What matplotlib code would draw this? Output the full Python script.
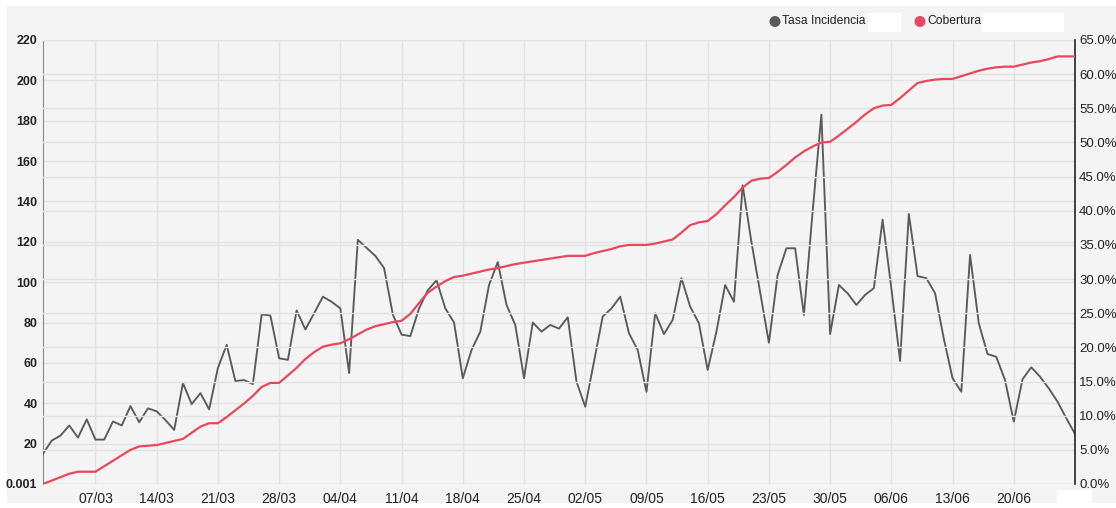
import matplotlib
matplotlib.use("Agg")
import matplotlib.pyplot as plt
import matplotlib.dates as mdates
from matplotlib.patches import Rectangle, Ellipse
import pandas as pd

plt.rcParams['font.family'] = ['Liberation Sans Narrow', 'Liberation Sans', 'DejaVu Sans']

# ---------------- data ----------------
start_date = "2021-03-01"
tasa_incidencia = [
    15, 21.5, 24, 29, 23, 32, 22,
    22, 31, 29, 38.6, 30.6, 37.5, 36,
    31.7, 26.8, 50, 39.6, 45, 37, 57.5,
    69, 51, 51.5, 49.5, 84, 83.5, 62.3,
    61.5, 86, 76.6, 84.6, 92.8, 90.3, 87,
    55, 121, 117, 113, 107, 84, 74,
    73.3, 87, 96, 101, 87, 80, 52.4,
    66.4, 75.5, 98.6, 110, 88.7, 78.8, 52.4,
    80, 75.5, 78.8, 77, 82.6, 50.7, 38.3,
    60.6, 83, 87, 92.8, 74.7, 66.4, 45.7,
    84.6, 74.3, 81.3, 102, 87.9, 79.6, 56.5,
    75.5, 98.6, 90.3, 148, 120, 95, 70,
    103.6, 116.8, 116.8, 83.7, 135, 183, 74.3,
    98.6, 94.5, 88.7, 93.7, 97, 131, 97,
    61, 133.8, 103, 102, 94.5, 72, 52.4,
    45.7, 113.5, 79.6, 64.4, 63, 51.5, 30.9,
    51.9, 57.8, 53.2, 47.4, 40.8, 32.6, 24.8,
]
cobertura = [
    0.0, 0.5, 1.0, 1.5, 1.8, 1.8, 1.8,
    2.6, 3.4, 4.2, 5.0, 5.5, 5.6, 5.7,
    6.0, 6.3, 6.6, 7.5, 8.4, 8.9, 8.9,
    9.8, 10.8, 11.8, 12.9, 14.2, 14.8, 14.8,
    15.9, 17.0, 18.3, 19.3, 20.1, 20.4, 20.6,
    21.2, 21.9, 22.6, 23.1, 23.4, 23.7, 23.9,
    24.9, 26.5, 28.0, 28.9, 29.7, 30.3, 30.5,
    30.8, 31.1, 31.4, 31.6, 31.9, 32.2, 32.4,
    32.6, 32.8, 33.0, 33.2, 33.4, 33.4, 33.4,
    33.8, 34.1, 34.4, 34.8, 35.0, 35.0, 35.0,
    35.2, 35.5, 35.8, 36.8, 37.9, 38.3, 38.5,
    39.5, 40.8, 42.0, 43.4, 44.4, 44.7, 44.8,
    45.7, 46.7, 47.8, 48.7, 49.4, 50.0, 50.1,
    51.0, 52.0, 53.0, 54.1, 55.0, 55.4, 55.5,
    56.5, 57.6, 58.7, 59.0, 59.2, 59.3, 59.3,
    59.7, 60.1, 60.5, 60.8, 61.0, 61.1, 61.1,
    61.4, 61.7, 61.9, 62.2, 62.6, 62.6, 62.6,
]
left_ticks = [0, 20, 40, 60, 80, 100, 120, 140, 160, 180, 200, 220]
left_labels = ['0.001', '20', '40', '60', '80', '100', '120', '140', '160', '180', '200', '220']
right_ticks = [0, 5, 10, 15, 20, 25, 30, 35, 40, 45, 50, 55, 60, 65]
right_labels = [f"{v:.1f}%" for v in right_ticks]
x_tick_dates = pd.date_range("2021-03-07", "2021-06-20", freq="7D")
legend_labels = ['Tasa Incidencia', 'Cobertura']

dates = pd.date_range(start_date, periods=len(tasa_incidencia), freq="D")

# ---------------- style ----------------
W, H = 1116, 508
BG = '#f4f4f4'
GRID = '#e2e2e2'
GRAY = '#5a5a5a'
RED = '#e8475e'

fig = plt.figure(figsize=(W / 100, H / 100), dpi=100, facecolor='white')
fig.patches.append(Rectangle((7 / W, 1 - 503 / H), 1 - 7 / W, (503 - 6) / H,
                             transform=fig.transFigure, facecolor=BG, edgecolor='none', zorder=-10))

ax = fig.add_axes([43 / W, 1 - 484 / H, (1075 - 43) / W, (484 - 40) / H])
ax.set_facecolor('none')
ax2 = ax.twinx()
ax2.set_facecolor('none')

# left axis
ax.plot(dates, tasa_incidencia, color=GRAY, lw=1.35, zorder=3)
ax.set_ylim(0, 220)
ax.set_yticks(left_ticks)
ax.set_yticklabels(left_labels, fontsize=9, fontweight='bold', color='#222222')
ax.set_xlim(dates[0], dates[-1])
ax.set_xticks(x_tick_dates)
ax.xaxis.set_major_formatter(mdates.DateFormatter('%d/%m'))
ax.tick_params(axis='x', length=0, pad=6, labelsize=10, labelcolor='#222222')
ax.tick_params(axis='y', length=0, pad=4)
ax.grid(True, color=GRID, lw=1.0, zorder=0)
ax.set_axisbelow(True)

# right axis
ax2.plot(dates, cobertura, color=RED, lw=1.6, zorder=3)
ax2.set_ylim(0, 65)
ax2.set_yticks(right_ticks)
ax2.set_yticklabels(right_labels, fontsize=9.5, color='#222222')
ax2.tick_params(axis='y', length=0, pad=3)
ax2.grid(True, axis='y', color=GRID, lw=1.0, zorder=0)
ax2.set_axisbelow(True)

for a in (ax, ax2):
    a.spines['top'].set_visible(False)
    a.spines['bottom'].set_visible(False)
ax.spines['left'].set_color('#888888')
ax.spines['right'].set_visible(False)
ax2.spines['left'].set_visible(False)
ax2.spines['right'].set_color('#222222')
ax2.spines['right'].set_linewidth(1.2)

# legend
leg_colors = [GRAY, RED]
leg_x = [775, 920]
for lx, col, lab in zip(leg_x, leg_colors, legend_labels):
    fig.patches.append(Ellipse((lx / W, 1 - 21.5 / H), 11 / W, 11 / H, transform=fig.transFigure,
                               facecolor=col, edgecolor='none', zorder=5))
    fig.text((lx + 7) / W, 1 - 21.5 / H, lab, fontsize=8.7, color='#222222',
             va='center', ha='left', zorder=6)
# white boxes next to legend labels (as in reference)
for x0, x1 in [(868, 901), (982, 1064)]:
    fig.patches.append(Rectangle((x0 / W, 1 - 32 / H), (x1 - x0) / W, 19 / H,
                                 transform=fig.transFigure, facecolor='white',
                                 edgecolor='none', zorder=1))
fig.patches.append(Rectangle((1057 / W, 0), 35 / W, 18 / H, transform=fig.transFigure,
                             facecolor='white', edgecolor='none', zorder=1))

fig.savefig('out.png', dpi=100, facecolor='white')
